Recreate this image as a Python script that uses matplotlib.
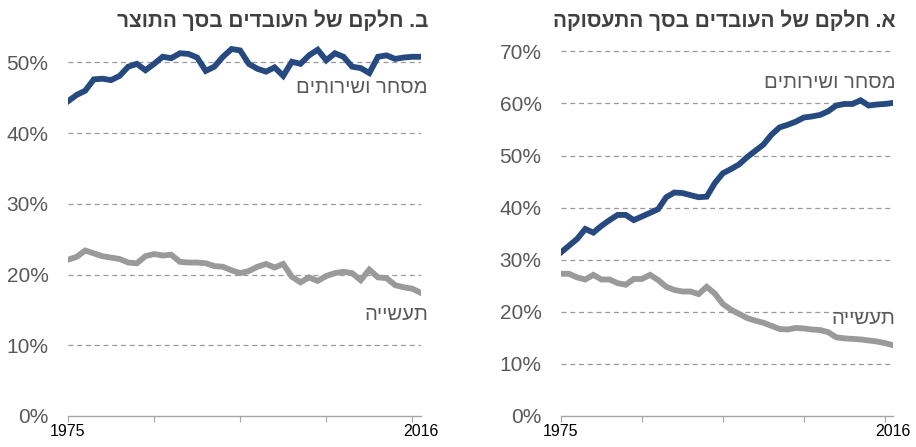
import numpy as np
import matplotlib
matplotlib.use("Agg")
import matplotlib.pyplot as plt

matplotlib.rcParams.update(
    {
        'font.family': ['Liberation Sans', 'DejaVu Sans'],
    }
)

years = np.arange(1975, 2017)

# panel b - share of output (%)
output_services = [44.5, 45.4, 46.0, 47.6, 47.7, 47.5, 48.1, 49.4, 49.8, 48.9,
                   49.8, 50.8, 50.6, 51.3, 51.2, 50.7, 48.8, 49.4, 50.8, 51.9,
                   51.7, 49.8, 49.1, 48.7, 49.3, 48.1, 50.1, 49.8, 51.0, 51.8,
                   50.3, 51.3, 50.8, 49.4, 49.2, 48.5, 50.8, 51.0, 50.5, 50.7,
                   50.8, 50.8]
output_industry = [22.1, 22.5, 23.4, 23.0, 22.6, 22.4, 22.2, 21.7, 21.6, 22.6,
                   22.9, 22.7, 22.8, 21.8, 21.7, 21.7, 21.6, 21.2, 21.1, 20.6,
                   20.2, 20.5, 21.1, 21.5, 21.0, 21.5, 19.7, 18.9, 19.6, 19.1,
                   19.8, 20.2, 20.4, 20.2, 19.2, 20.7, 19.6, 19.5, 18.5, 18.2,
                   18.0, 17.4]

# panel a - share of employment (%)
employ_services = [31.4, 32.7, 34.0, 35.9, 35.2, 36.5, 37.6, 38.6, 38.6, 37.6,
                   38.3, 39.0, 39.7, 42.0, 42.9, 42.8, 42.4, 42.0, 42.1, 44.7,
                   46.6, 47.4, 48.3, 49.7, 50.9, 52.1, 54.0, 55.4, 55.9, 56.5,
                   57.3, 57.5, 57.8, 58.5, 59.6, 59.9, 59.9, 60.6, 59.6, 59.8,
                   59.9, 60.1]
employ_industry = [27.3, 27.3, 26.6, 26.2, 27.1, 26.2, 26.2, 25.5, 25.2, 26.3,
                   26.3, 27.1, 26.1, 24.8, 24.2, 23.9, 23.9, 23.4, 24.8, 23.5,
                   21.5, 20.4, 19.6, 18.8, 18.3, 17.9, 17.3, 16.7, 16.6, 16.9,
                   16.8, 16.6, 16.5, 16.1, 15.1, 14.9, 14.8, 14.7, 14.5, 14.3,
                   14.0, 13.6]

title_a = "א. חלקם של העובדים בסך התעסוקה"
title_b = "ב. חלקם של העובדים בסך התוצר"
lbl_services = "מסחר ושירותים"
lbl_industry = "תעשייה"


def rtl(s):
    # matplotlib has no bidi, so flip hebrew to visual order
    return s[::-1]


BLUE = "#264a80"
GRAY = "#9a9a9a"
TXT = "#595959"

fig = plt.figure(figsize=(9.16, 4.47), dpi=100)
ax_b = fig.add_axes([0.0742, 0.0694, 0.3854, 0.870])
ax_a = fig.add_axes([0.6124, 0.0694, 0.3624, 0.839])


def style(ax, ymax, yticks):
    ax.set_xlim(1975, 2016)
    ax.set_ylim(0, ymax)
    for s in ["left", "right", "top"]:
        ax.spines[s].set_visible(False)
    ax.spines["bottom"].set_color("#a6a6a6")
    ax.spines["bottom"].set_linewidth(1.0)
    ax.set_yticks(yticks)
    ax.set_yticklabels([f"{t}%" for t in yticks])
    ax.tick_params(axis="y", length=0, pad=14, labelsize=15, labelcolor=TXT)
    for t in yticks[1:]:
        ax.axhline(t, color="#999999", lw=0.9, ls=(0, (4, 3)), zorder=0)
    ax.set_xticks([1975, 1985, 1995, 2005, 2015])
    ax.set_xticklabels(["1975", "", "", "", ""])
    ax.set_xticks([2016], minor=True)
    ax.set_xticklabels(["2016"], minor=True)
    ax.tick_params(axis="x", which="major", length=4, color="#a6a6a6",
                   labelsize=11.5, labelcolor="black", pad=2)
    ax.tick_params(axis="x", which="minor", length=0,
                   labelsize=11.5, labelcolor="black", pad=6)


style(ax_b, 55, [0, 10, 20, 30, 40, 50])
ax_b.plot(years, output_services, color=BLUE, lw=4.2, solid_joinstyle="miter")
ax_b.plot(years, output_industry, color=GRAY, lw=4.2, solid_joinstyle="miter")
ax_b.text(2016.8, 46.4, rtl(lbl_services), ha="right", va="center",
          fontsize=14.6, color=TXT)
ax_b.text(2016.8, 14.3, rtl(lbl_industry), ha="right", va="center",
          fontsize=14.6, color=TXT)

style(ax_a, 72, [0, 10, 20, 30, 40, 50, 60, 70])
ax_a.plot(years, employ_services, color=BLUE, lw=4.2, solid_joinstyle="miter")
ax_a.plot(years, employ_industry, color=GRAY, lw=4.2, solid_joinstyle="miter")
ax_a.text(2016.3, 64.1, rtl(lbl_services), ha="right", va="center",
          fontsize=14.6, color=TXT)
ax_a.text(2016.3, 18.8, rtl(lbl_industry), ha="right", va="center",
          fontsize=14.6, color=TXT)

fig.text(428 / 916, 1 - 20 / 447, rtl(title_b), ha="right", va="center",
         fontsize=15, fontweight="bold", color="#404040")
fig.text(896 / 916, 1 - 20 / 447, rtl(title_a), ha="right", va="center",
         fontsize=15, fontweight="bold", color="#404040")

fig.savefig("out.png", dpi=100)
